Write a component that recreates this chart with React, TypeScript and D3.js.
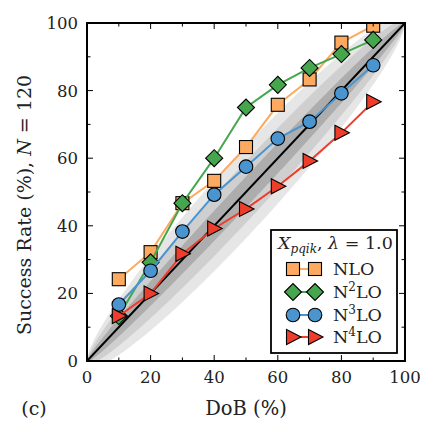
import React from "react";
import * as d3 from "d3";

// DoB values (%)
const dob = [10, 20, 30, 40, 50, 60, 70, 80, 90];

// success rates (%) for each order
const nlo = [24.2, 32.2, 46.7, 53.3, 63.3, 75.8, 83.3, 94.2, 99.2];
const n2lo = [13.3, 29.2, 46.7, 60.0, 75.0, 81.7, 86.7, 90.8, 95.0];
const n3lo = [16.7, 26.7, 38.3, 49.2, 57.5, 65.8, 70.8, 79.2, 87.5];
const n4lo = [13.3, 20.0, 31.7, 39.2, 45.0, 51.7, 59.2, 67.5, 76.7];

const majorTicks = [0, 20, 40, 60, 80, 100];
const minorTicks = [10, 30, 50, 70, 90];
const N = 120;
const sigmaLevels = [3, 2, 1];
const bandColors = ["#e6e6e6", "#cfcfcf", "#adadad"];

const font = "DejaVu Serif";

const series = [
  { name: "NLO", sup: "", values: nlo, color: "#fdaa60", marker: "square" },
  { name: "N", sup: "2", values: n2lo, color: "#46a64e", marker: "diamond" },
  { name: "N", sup: "3", values: n3lo, color: "#4a95cf", marker: "circle" },
  { name: "N", sup: "4", values: n4lo, color: "#ee3e2b", marker: "triangle" },
];

const Marker = ({ type, x, y, fill }) => {
  const common = { fill, stroke: "#000", strokeWidth: 1.1 };
  if (type === "square") return <rect x={x - 6.5} y={y - 6.5} width={13} height={13} {...common} />;
  if (type === "diamond")
    return <path d={`M${x - 8.5},${y}L${x},${y - 8.5}L${x + 8.5},${y}L${x},${y + 8.5}Z`} {...common} />;
  if (type === "circle") return <circle cx={x} cy={y} r={6.8} {...common} />;
  return <path d={`M${x - 6.5},${y - 7.5}L${x + 8},${y}L${x - 6.5},${y + 7.5}Z`} {...common} />;
};

export default function App() {
  const x = d3.scaleLinear().domain([0, 100]).range([87, 405]);
  const y = d3.scaleLinear().domain([0, 100]).range([361, 23]);

  const grid = d3.range(0, 100.01, 0.5);
  const band = (k) =>
    d3
      .area()
      .x((p) => x(p))
      .y0((p) => y(Math.max(0, p - k * 100 * Math.sqrt((p / 100) * (1 - p / 100) / N))))
      .y1((p) => y(Math.min(100, p + k * 100 * Math.sqrt((p / 100) * (1 - p / 100) / N))))(grid);

  const line = d3
    .line()
    .x((d) => x(d[0]))
    .y((d) => y(d[1]));

  const legendRows = [269, 292, 315, 337];

  return (
    <svg width={436} height={436} style={{ position: "absolute", left: 0, top: 0 }}>
      <rect width={436} height={436} fill="#fff" />
      <defs>
        <clipPath id="plot">
          <rect x={87} y={23} width={318} height={338} />
        </clipPath>
      </defs>
      <g clipPath="url(#plot)">
        {sigmaLevels.map((k, i) => (
          <path key={k} d={band(k)} fill={bandColors[i]} />
        ))}
        <path d={line([[0, 0], [100, 100]])} stroke="#000" strokeWidth={2} fill="none" />
        {series.map((s) => (
          <g key={s.name + s.sup}>
            <path
              d={line(dob.map((d, i) => [d, s.values[i]]))}
              stroke={s.color}
              strokeWidth={2}
              fill="none"
            />
            {dob.map((d, i) => (
              <Marker key={d} type={s.marker} x={x(d)} y={y(s.values[i])} fill={s.color} />
            ))}
          </g>
        ))}
      </g>

      {/* ticks, inward on every side */}
      {majorTicks.concat(minorTicks).map((t) => {
        const len = majorTicks.includes(t) ? 6 : 3.5;
        return (
          <g key={t} stroke="#000" strokeWidth={1}>
            <line x1={x(t)} x2={x(t)} y1={361} y2={361 - len} />
            <line x1={x(t)} x2={x(t)} y1={23} y2={23 + len} />
            <line x1={87} x2={87 + len} y1={y(t)} y2={y(t)} />
            <line x1={405} x2={405 - len} y1={y(t)} y2={y(t)} />
          </g>
        );
      })}
      <rect x={87} y={23} width={318} height={338} fill="none" stroke="#000" strokeWidth={2} />

      <g fontFamily={font} fontSize={16.5} fill="#222">
        {majorTicks.map((t) => (
          <text key={"x" + t} x={x(t)} y={383} textAnchor="middle">
            {t}
          </text>
        ))}
        {majorTicks.map((t) => (
          <text key={"y" + t} x={78} y={y(t) + 6} textAnchor="end">
            {t}
          </text>
        ))}
        <text x={246} y={415} textAnchor="middle" fontSize={19.5}>
          DoB (%)
        </text>
        <text x={34} y={415} textAnchor="middle" fontSize={19}>
          (c)
        </text>
        <text transform="translate(31,205) rotate(-90)" textAnchor="middle" fontSize={19}>
          Success Rate (%), <tspan fontStyle="italic">N</tspan> = 120
        </text>
      </g>

      {/* legend */}
      <rect x={271} y={230} width={126} height={123} fill="#fff" stroke="#000" strokeWidth={1.8} />
      <g fontFamily={font} fontSize={17.5} fill="#222">
        <text x={278} y={249}>
          <tspan fontStyle="italic">X</tspan>
          <tspan fontStyle="italic" fontSize={12} dy={4}>pqik</tspan>
          <tspan dy={-4}>, </tspan>
          <tspan fontStyle="italic">λ</tspan>
          <tspan> = 1.0</tspan>
        </text>
        {series.map((s, i) => (
          <g key={s.name + s.sup}>
            <line x1={293} x2={315} y1={legendRows[i]} y2={legendRows[i]} stroke={s.color} strokeWidth={2} />
            <Marker type={s.marker} x={293} y={legendRows[i]} fill={s.color} />
            <Marker type={s.marker} x={315} y={legendRows[i]} fill={s.color} />
            <text x={333} y={legendRows[i] + 6}>
              {s.name}
              {s.sup && (
                <tspan fontSize={12} dy={-7}>
                  {s.sup}
                </tspan>
              )}
              {s.sup && <tspan dy={7}>LO</tspan>}
            </text>
          </g>
        ))}
      </g>
    </svg>
  );
}
